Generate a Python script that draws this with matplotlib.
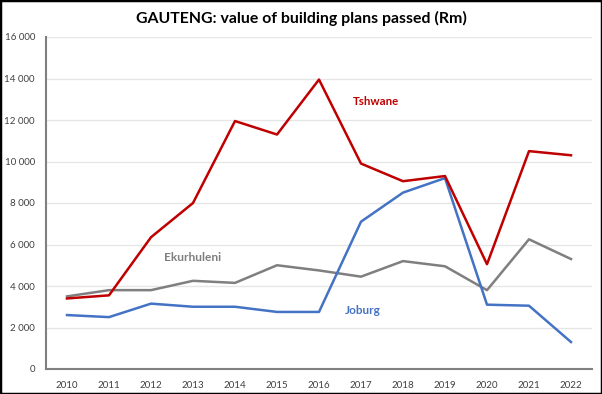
import matplotlib
matplotlib.use("Agg")
import matplotlib.pyplot as plt
from matplotlib.patches import Rectangle

years = [2010, 2011, 2012, 2013, 2014, 2015, 2016, 2017, 2018, 2019, 2020, 2021, 2022]
tshwane = [3400, 3550, 6350, 8000, 11950, 11300, 13950, 9900, 9050, 9300, 5050, 10500, 10300]
joburg = [2600, 2500, 3150, 3000, 3000, 2750, 2750, 7100, 8500, 9200, 3100, 3050, 1300]
ekurhuleni = [3500, 3800, 3800, 4250, 4150, 5000, 4750, 4450, 5200, 4950, 3800, 6250, 5300]
yticks = [0, 2000, 4000, 6000, 8000, 10000, 12000, 14000, 16000]
ytick_labels = ["0", "2 000", "4 000", "6 000", "8 000", "10 000", "12 000", "14 000", "16 000"]

plt.rcParams['font.family'] = ['Lato', 'DejaVu Sans']

fig = plt.figure(figsize=(6.02, 3.94), dpi=100)
ax = fig.add_axes([46/602, 1 - 369/394, (592-46)/602, (369-37)/394])

red = "#C00000"
blue = "#4472C4"
gray = "#7F7F7F"

ax.plot(years, ekurhuleni, color=gray, lw=1.8, zorder=3)
ax.plot(years, joburg, color=blue, lw=1.8, zorder=4)
ax.plot(years, tshwane, color=red, lw=1.8, zorder=5)

ax.set_xlim(2009.5, 2022.5)
ax.set_ylim(0, 16000)
ax.set_xticks(years)
ax.set_xticklabels([str(y) for y in years])
ax.set_yticks(yticks)
ax.set_yticklabels(ytick_labels)
ax.tick_params(axis='both', length=0, labelsize=7, colors="#404040")
ax.tick_params(axis='x', pad=9)
ax.tick_params(axis='y', pad=8)
ax.grid(axis='y', color="#E6E6E6", lw=1)
ax.set_axisbelow(True)
for s in ['top', 'right']:
    ax.spines[s].set_visible(False)
for s in ['left', 'bottom']:
    ax.spines[s].set_color("#808080")
    ax.spines[s].set_linewidth(1.5)

ax.text(2017.36, 12870, "Tshwane", color=red, fontsize=8.3, fontweight='bold', ha='center', va='center')
ax.text(2013.0, 5350, "Ekurhuleni", color=gray, fontsize=8.6, fontweight='bold', ha='center', va='center')
ax.text(2017.03, 2800, "Joburg", color=blue, fontsize=8.5, fontweight='bold', ha='center', va='center')

fig.text(0.5, 1 - 18/394, "GAUTENG: value of building plans passed (Rm)", ha='center', va='center',
         fontsize=11.4, fontweight='bold', color="#000000")

fig.patches.append(Rectangle((0, 0), 1, 1, transform=fig.transFigure, fill=False,
                             edgecolor="black", lw=2.5, zorder=10))

fig.savefig("out.png", dpi=100)
